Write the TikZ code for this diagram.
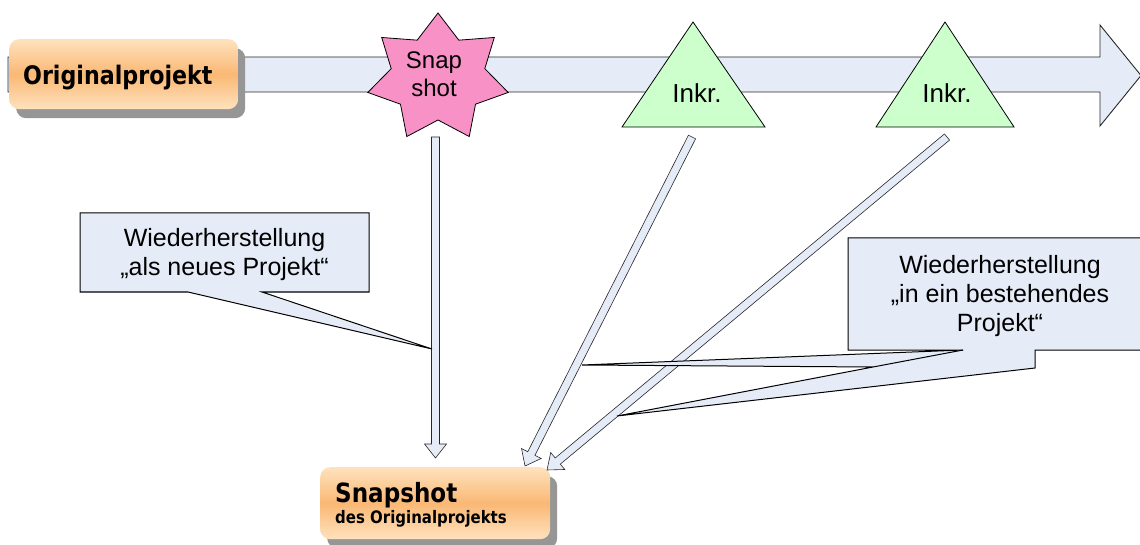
\documentclass[tikz,border=0pt]{standalone}
\usepackage{fontspec}
\setmainfont{Liberation Sans}
\newfontfamily\boxfont{DejaVu Sans}[FakeStretch=0.87]
\usetikzlibrary{calc,shadows}
\definecolor{arrowblue}{RGB}{230,236,247}
\definecolor{starpink}{RGB}{247,145,198}
\definecolor{inkgreen}{RGB}{204,255,204}
\definecolor{orlight}{RGB}{254,226,190}
\definecolor{ormid}{RGB}{250,184,116}
\definecolor{shadowgray}{RGB}{150,150,150}
\newcommand\blockarr[3]{%
  \coordinate (#3hb) at ($(#2)!14pt!(#1)$);
  \draw[blockarrow] ($(#1)!4pt!90:(#2)$) -- ($(#3hb)!4pt!90:(#2)$) -- ($(#3hb)!11pt!90:(#2)$) -- (#2)
    -- ($(#3hb)!11pt!-90:(#2)$) -- ($(#3hb)!4pt!-90:(#2)$) -- ($(#1)!4pt!-90:(#2)$) -- cycle;
}
\begin{document}
\begin{tikzpicture}[x=1pt,y=-1pt,line join=miter,
  outline/.style={draw=black,line width=0.8pt},
  blockarrow/.style={draw=black!85,line width=0.6pt,fill=arrowblue},
  bigarrow/.style={draw=black!85,line width=0.9pt,fill=arrowblue},
  orangebox/.style={rounded corners=10pt,top color=orlight,bottom color=orlight,middle color=ormid,
    general shadow={fill=shadowgray,shadow xshift=7pt,shadow yshift=-9pt},inner sep=0pt},
  callout/.style={draw=black,line width=1pt,fill=arrowblue},
  plain/.style={inner sep=0pt,font=\fontsize{24}{28}\selectfont},
  calltext/.style={inner sep=0pt,align=center,font=\fontsize{25}{29}\selectfont},
  boldbig/.style={inner sep=0pt,font=\boxfont\bfseries\fontsize{25.5}{29}\selectfont}]
\useasboundingbox (0,0) rectangle (1140,545);

% time line arrow
\draw[bigarrow] (8,57) -- (1100,57) -- (1100,25) -- (1141,75.5) -- (1100,126) -- (1100,92) -- (8,92) -- cycle;

% original project
\node[orangebox,anchor=north west,minimum width=229pt,minimum height=70pt] (orig) at (9,39) {};
\node[boldbig,anchor=base west] (origtext) at (23,85) {Originalprojekt};

% snapshot star
\draw[outline,fill=starpink] plot[samples at={0,...,13},variable=\k]
  ({438+ifthenelse(mod(\k,2)==0,72,48)*cos(90+\k*360/14)},{78-ifthenelse(mod(\k,2)==0,65,42)*sin(90+\k*360/14)}) -- cycle;
\node[plain,align=center] (snapstar) at (434,74.5) {Snap\\shot};

% increments
\draw[outline,fill=inkgreen] (622,127) -- (693,22) -- (765,127) -- cycle;
\node[inner sep=0pt,font=\fontsize{26}{30}\selectfont,anchor=base] (inkr1) at (697,103) {Inkr.};
\draw[outline,fill=inkgreen] (876,127) -- (945,22) -- (1014,127) -- cycle;
\node[inner sep=0pt,font=\fontsize{26}{30}\selectfont,anchor=base] (inkr2) at (947,103) {Inkr.};

% snapshot result
\node[orangebox,anchor=north west,minimum width=230pt,minimum height=72pt] (snap) at (320,467) {};
\node[boldbig,font=\boxfont\bfseries\fontsize{26.5}{30}\selectfont,anchor=base west] (snaptext) at (335,502) {Snapshot};
\node[boldbig,font=\boxfont\bfseries\fontsize{17.2}{20}\selectfont,anchor=base west] (snapsub) at (335,523) {des Originalprojekts};

% connectors
\coordinate (tail0) at (435.5,137);
\coordinate (tail1) at (692,137);
\coordinate (tail2) at (947,137);
\coordinate (tip0) at (435.5,458);
\coordinate (tip1) at (525,466);
\coordinate (tip2) at (547,470);
\blockarr{tail0}{tip0}{a0}
\blockarr{tail1}{tip1}{a1}
\blockarr{tail2}{tip2}{a2}

% callout 1
\draw[callout] (80,213) -- (369,213) -- (369,292) -- (262,292) -- (432,349) -- (188,292) -- (80,292) -- cycle;
\node[calltext] (call1) at (224.5,255) {Wiederherstellung\\„als neues Projekt“};

% callout 2
\draw[callout] (848,350) -- (963,350) -- (582,365) -- (873,367) -- (617,416) -- (1035,368) -- (1035,350)
  -- (1165,350) -- (1165,238) -- (848,238) -- cycle;
\draw[callout,fill=none] (873,367) -- (963,350);
\node[calltext] (call2) at (1000,296.5) {Wiederherstellung\\„in ein bestehendes\\Projekt“};
\end{tikzpicture}
\end{document}
